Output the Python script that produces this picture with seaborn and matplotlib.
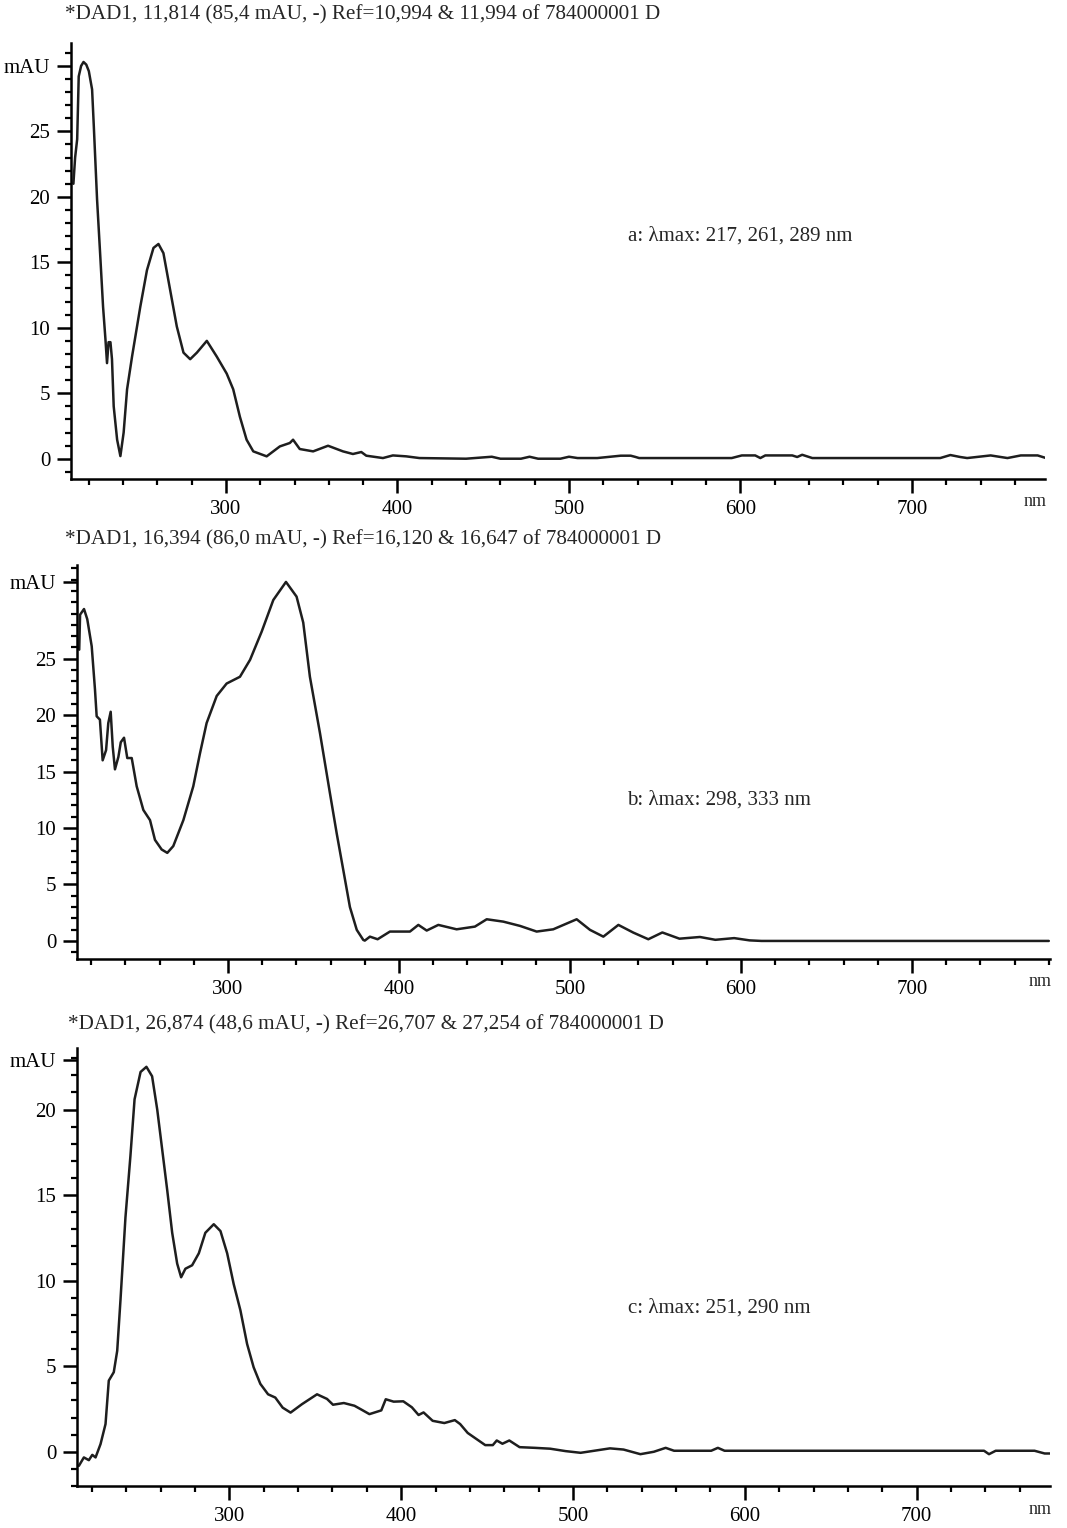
import numpy as np
import pandas as pd
import matplotlib
matplotlib.use("Agg")
import matplotlib.pyplot as plt
import seaborn as sns
from matplotlib.ticker import MultipleLocator

# espectro a
wl_a = [211.0, 212.0, 213.2, 214.1, 215.5, 216.9, 218.5, 220.0, 221.9, 222.9, 224.8, 226.7,
        228.3, 229.7, 230.6, 231.5, 232.6, 233.5, 234.5, 236.5, 238.4, 240.3, 242.3, 245.2,
        250.0, 253.9, 257.7, 260.6, 263.5, 267.4, 271.3, 275.2, 279.1, 283.0, 288.8, 294.6,
        300.4, 304.2, 308.1, 312.0, 315.9, 323.7, 331.4, 337.2, 339.1, 343.0, 350.8, 359.5,
        368.2, 374.0, 378.9, 381.8, 391.5, 397.3, 405.1, 412.8, 440.0, 450.0, 455.0, 460.0,
        472.0, 477.0, 482.0, 495.0, 500.0, 505.0, 516.5, 530.2, 536.0, 538.9, 540.9, 594.9,
        600.8, 608.6, 611.6, 614.5, 630.2, 633.1, 636.0, 641.9, 716.5, 722.4, 728.2, 732.2,
        745.9, 755.7, 763.5, 773.3, 778.2]
abs_a = [21.0, 23.0, 24.4, 29.2, 30.0, 30.3, 30.1, 29.6, 28.2, 25.4, 19.8, 15.4,
         11.6, 9.1, 7.3, 8.9, 8.9, 7.6, 4.0, 1.45, 0.2, 2.0, 5.3, 7.8,
         11.6, 14.4, 16.1, 16.4, 15.7, 12.9, 10.1, 8.1, 7.6, 8.1, 9.0, 7.8,
         6.5, 5.3, 3.2, 1.45, 0.56, 0.18, 0.94, 1.2, 1.45, 0.74, 0.56, 0.99,
         0.56, 0.36, 0.51, 0.23, 0.05, 0.25, 0.18, 0.05, 0.0, 0.1, 0.15, 0.0,
         0.0, 0.15, 0.0, 0.0, 0.15, 0.05, 0.05, 0.23, 0.23, 0.13, 0.05, 0.05,
         0.25, 0.25, 0.05, 0.25, 0.25, 0.13, 0.3, 0.05, 0.05, 0.28, 0.13, 0.05,
         0.25, 0.05, 0.25, 0.25, 0.05]

# espectro b
wl_b = [213.0, 213.5, 215.8, 217.7, 220.3, 222.2, 223.2, 225.1, 226.7, 228.7, 230.0, 231.4,
        232.6, 233.9, 235.9, 237.3, 239.2, 241.1, 243.7, 246.6, 250.5, 254.4, 257.3, 261.2,
        264.5, 268.0, 273.9, 279.7, 283.6, 287.5, 293.4, 299.2, 307.0, 312.9, 319.7, 326.5,
        333.9, 340.1, 344.0, 347.9, 353.8, 359.6, 363.6, 367.4, 371.3, 375.3, 379.1, 380.0,
        383.0, 387.5, 394.7, 406.4, 411.3, 416.2, 423.0, 433.7, 444.4, 451.3, 461.0, 470.8,
        480.5, 490.2, 503.9, 511.7, 519.5, 528.3, 537.0, 545.8, 554.0, 564.0, 576.0, 585.0,
        596.0, 605.0, 612.0, 780.0]
abs_b = [25.8, 28.9, 29.4, 28.5, 26.1, 22.3, 19.9, 19.6, 16.0, 16.9, 19.3, 20.3,
         17.2, 15.2, 16.3, 17.6, 18.0, 16.2, 16.2, 13.7, 11.6, 10.7, 8.95, 8.1,
         7.8, 8.4, 10.7, 13.7, 16.6, 19.3, 21.7, 22.8, 23.4, 24.9, 27.4, 30.2,
         31.8, 30.5, 28.2, 23.4, 18.4, 13.1, 9.5, 6.3, 3.0, 0.98, 0.09, 0.03,
         0.38, 0.15, 0.83, 0.83, 1.42, 0.92, 1.42, 1.03, 1.27, 1.92, 1.71, 1.33,
         0.83, 1.03, 1.92, 0.98, 0.38, 1.42, 0.74, 0.15, 0.75, 0.2, 0.35, 0.1,
         0.25, 0.05, 0.0, 0.0]

# espectro c
wl_c = [212.4, 215.3, 218.2, 220.2, 222.1, 225.0, 227.9, 229.8, 232.7, 234.7, 236.6, 239.5,
        242.4, 244.8, 248.3, 251.7, 255.0, 258.0, 260.9, 263.8, 266.7, 269.6, 271.9, 274.4,
        278.3, 282.2, 286.0, 290.9, 294.8, 298.7, 302.5, 306.4, 310.3, 314.1, 318.0, 322.5,
        326.7, 331.0, 335.6, 342.2, 351.0, 356.8, 360.3, 366.6, 372.8, 377.1, 381.5, 388.4,
        391.0, 395.6, 401.2, 406.2, 410.1, 413.0, 418.3, 425.1, 431.2, 434.3, 438.7, 448.9,
        453.3, 455.6, 458.9, 462.9, 468.9, 477.8, 486.7, 495.6, 504.4, 511.0, 521.5, 529.4,
        539.2, 547.0, 553.9, 558.8, 580.4, 584.3, 588.2, 739.2, 742.1, 746.0, 768.6, 774.5,
        778.4]
abs_c = [-0.82, -0.33, -0.49, -0.18, -0.33, 0.45, 1.62, 4.16, 4.65, 5.9, 8.86, 13.7,
         17.3, 20.6, 22.2, 22.5, 21.95, 20.0, 17.65, 15.3, 12.8, 11.0, 10.2, 10.7,
         10.9, 11.6, 12.8, 13.3, 12.9, 11.6, 9.8, 8.27, 6.3, 4.94, 3.97, 3.36,
         3.17, 2.58, 2.29, 2.78, 3.36, 3.09, 2.75, 2.85, 2.69, 2.45, 2.2, 2.42,
         3.07, 2.93, 2.95, 2.6, 2.15, 2.3, 1.81, 1.68, 1.85, 1.62, 1.1, 0.39,
         0.39, 0.66, 0.47, 0.66, 0.27, 0.23, 0.18, 0.04, -0.06, 0.04, 0.2, 0.13,
         -0.14, 0.0, 0.23, 0.06, 0.06, 0.23, 0.06, 0.06, -0.14, 0.06, 0.06, -0.1,
         -0.1]

titulos = ["*DAD1, 11,814 (85,4 mAU, -) Ref=10,994 & 11,994 of 784000001 D",
           "*DAD1, 16,394 (86,0 mAU, -) Ref=16,120 & 16,647 of 784000001 D",
           "*DAD1, 26,874 (48,6 mAU, -) Ref=26,707 & 27,254 of 784000001 D"]
notas = ["a: λmax: 217, 261, 289 nm", "b: λmax: 298, 333 nm", "c: λmax: 251, 290 nm"]
yticks_a = [0, 5, 10, 15, 20, 25]
yticks_b = [0, 5, 10, 15, 20, 25]
yticks_c = [0, 5, 10, 15, 20]
xticks = [300, 400, 500, 600, 700]

sns.set_style("ticks")
plt.rcParams['font.family'] = ['Liberation Serif', 'DejaVu Serif']

W, H = 1067, 1528
fig = plt.figure(figsize=(W / 100, H / 100), dpi=100)

# (izq, der, arriba, abajo) en pixeles, xlim, ylim, posicion de mAU, titulo y nota
paneles = [
    (wl_a, abs_a, yticks_a, (71, 1045, 43, 479), (209.6, 777.6), (-1.55, 31.75), 30.0,
     (65, 15), (628, 236)),
    (wl_b, abs_b, yticks_b, (77, 1050, 565, 959), (211.7, 780.7), (-1.6, 33.3), 31.8,
     (65, 540), (627, 800)),
    (wl_c, abs_c, yticks_c, (77, 1050, 1048, 1486), (211.3, 777.6), (-2.0, 23.6), 22.9,
     (68, 1025), (628, 1308)),
]

color = "#1e1e1e"
for i, (wl, ab, yt, (l, r, t, b), xl, yl, mau, tpos, npos) in enumerate(paneles):
    ax = fig.add_axes([l / W, 1 - b / H, (r - l) / W, (b - t) / H])
    datos = pd.DataFrame({"nm": wl, "mAU": ab})
    sns.lineplot(data=datos, x="nm", y="mAU", ax=ax, color=color, linewidth=1.8,
                 estimator=None, sort=False)
    ax.set_xlim(*xl)
    ax.set_ylim(*yl)
    ax.set_xlabel("")
    ax.set_ylabel("")
    sns.despine(ax=ax)
    for s in ["left", "bottom"]:
        ax.spines[s].set_linewidth(1.8)
        ax.spines[s].set_color("black")
    ax.set_xticks(xticks)
    ax.set_xticklabels([str(v) for v in xticks])
    ax.xaxis.set_minor_locator(MultipleLocator(20))
    ax.set_yticks(yt + [mau])
    ax.set_yticklabels([str(v) for v in yt] + ["mAU"])
    ax.yaxis.set_minor_locator(MultipleLocator(1))
    ax.tick_params(axis="both", which="major", labelsize=15, width=1.8, color="black",
                   labelcolor="black")
    ax.tick_params(axis="x", which="major", length=10, pad=5)
    ax.tick_params(axis="y", which="major", length=10, pad=5)
    ax.tick_params(axis="both", which="minor", length=4, width=1.6, color="black")
    ax.set_facecolor("white")
    fig.text(tpos[0] / W, 1 - tpos[1] / H, titulos[i], fontsize=15.2, ha="left", va="center")
    fig.text(npos[0] / W, 1 - npos[1] / H, notas[i], fontsize=15, ha="left", va="center")
    fig.text((r - 10) / W, 1 - (b + 23) / H, "nm", fontsize=13, ha="center", va="center")

fig.savefig("out.png", dpi=100, facecolor="white")
